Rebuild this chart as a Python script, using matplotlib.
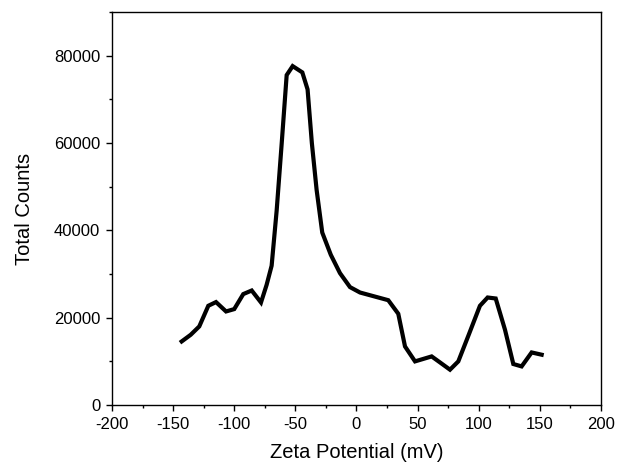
import matplotlib
matplotlib.use("Agg")
import matplotlib.pyplot as plt
from matplotlib.ticker import MultipleLocator

plt.rcParams['font.family'] = ['Liberation Sans', 'DejaVu Sans']
plt.rcParams['axes.unicode_minus'] = False

# zeta potential (mV) and total counts
zeta = [-143.0, -135.6, -128.6, -121.2, -114.9, -106.7, -100.0, -92.6, -85.7, -78.1,
        -73.5, -69.4, -65.3, -61.2, -57.1, -52.2, -44.3, -40.0, -36.5,
        -32.6, -28.0, -21.0, -13.5, -5.3, 2.9, 26.0, 34.2, 39.7, 47.9,
        61.5, 68.3, 76.5, 83.3, 92.0, 101.0, 107.3, 113.9, 121.5, 128.3,
        135.1, 143.3, 151.5]
counts = [14550, 16080, 17990, 22720, 23570, 21420, 21960, 25400, 26220, 23480,
          27520, 31900, 44500, 59800, 75570, 77630, 76190, 72300, 60000,
          49260, 39500, 34400, 30200, 27000, 25760, 24000, 20890, 13410, 9980,
          11120, 9750, 8080, 9980, 16200, 22720, 24620, 24390, 17230, 9380,
          8830, 12030, 11510]

fig = plt.figure(figsize=(6.17, 4.66), dpi=100)
ax = fig.add_axes([0.1815, 0.131, 0.7925, 0.843])

ax.plot(zeta, counts, color="black", linewidth=3.0, solid_joinstyle="miter")

ax.set_xlim(-200, 200)
ax.set_ylim(0, 90000)
ax.xaxis.set_major_locator(MultipleLocator(50))
ax.xaxis.set_minor_locator(MultipleLocator(25))
ax.yaxis.set_major_locator(MultipleLocator(20000))
ax.yaxis.set_minor_locator(MultipleLocator(10000))
ax.tick_params(which="both", direction="out", top=False, right=False, labelsize=12, width=1)
ax.tick_params(which="major", length=4.5, pad=4)
ax.tick_params(which="minor", length=2.5)
for s in ax.spines.values():
    s.set_linewidth(1)

ax.set_xlabel("Zeta Potential (mV)", fontsize=14.5, labelpad=8)
ax.set_ylabel("Total Counts", fontsize=14.5, labelpad=14)

fig.savefig("out.png", dpi=100)
